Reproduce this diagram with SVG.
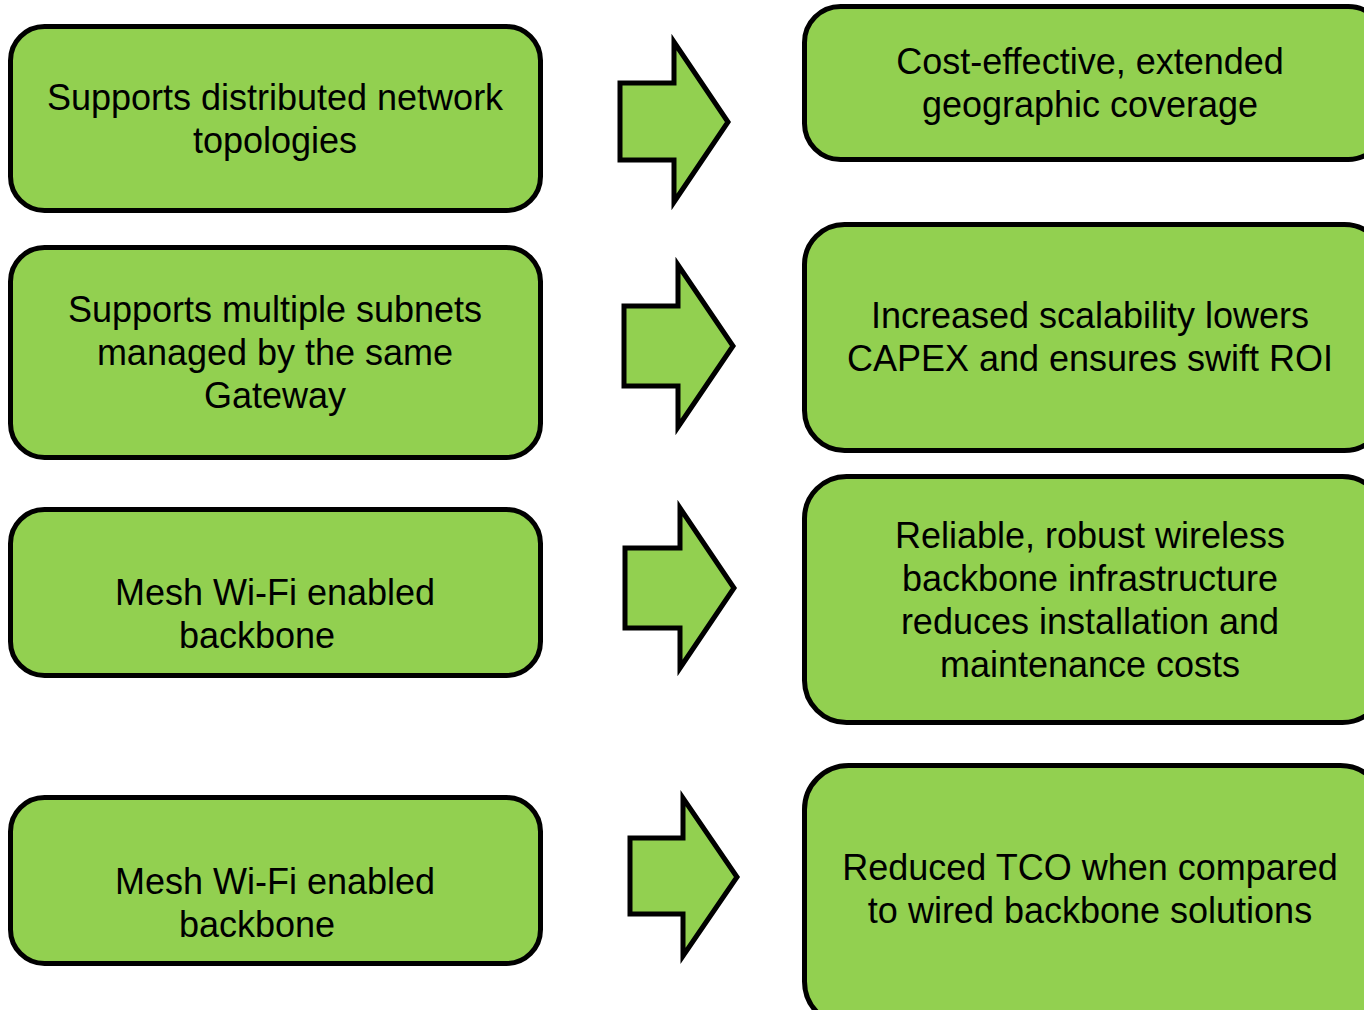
<svg xmlns="http://www.w3.org/2000/svg" width="1364" height="1010" viewBox="0 0 1364 1010">
  <style>
    .box { fill: #92D050; stroke: #000; stroke-width: 5; }
    .arrow { fill: #92D050; stroke: #000; stroke-width: 5; stroke-linejoin: miter; }
    .label { font-family: "Liberation Sans", Arial, sans-serif; font-size: 36px; fill: #000; text-anchor: middle; }
  </style>
  <rect width="1364" height="1010" fill="#fff"/>

  <!-- Left column: features -->
  <g id="feature-1">
    <rect class="box" x="10.5" y="26.5" width="530" height="184" rx="34"/>
    <text class="label" x="275" y="110">Supports distributed network</text>
    <text class="label" x="275" y="153">topologies</text>
  </g>
  <g id="feature-2">
    <rect class="box" x="10.5" y="247.5" width="530" height="210" rx="34"/>
    <text class="label" x="275" y="322">Supports multiple subnets</text>
    <text class="label" x="275" y="365">managed by the same</text>
    <text class="label" x="275" y="408">Gateway</text>
  </g>
  <g id="feature-3">
    <rect class="box" x="10.5" y="509.5" width="530" height="166" rx="34"/>
    <text class="label" x="275" y="605">Mesh Wi-Fi enabled</text>
    <text class="label" x="257" y="648">backbone</text>
  </g>
  <g id="feature-4">
    <rect class="box" x="10.5" y="797.5" width="530" height="166" rx="34"/>
    <text class="label" x="275" y="894">Mesh Wi-Fi enabled</text>
    <text class="label" x="257" y="937">backbone</text>
  </g>

  <!-- Right column: benefits -->
  <g id="benefit-1">
    <rect class="box" x="804.5" y="6.5" width="580" height="153" rx="36"/>
    <text class="label" x="1090" y="74">Cost-effective, extended</text>
    <text class="label" x="1090" y="117">geographic coverage</text>
  </g>
  <g id="benefit-2">
    <rect class="box" x="804.5" y="224.5" width="580" height="226" rx="40"/>
    <text class="label" x="1090" y="328">Increased scalability lowers</text>
    <text class="label" x="1090" y="371">CAPEX and ensures swift ROI</text>
  </g>
  <g id="benefit-3">
    <rect class="box" x="804.5" y="476.5" width="580" height="246" rx="42"/>
    <text class="label" x="1090" y="548">Reliable, robust wireless</text>
    <text class="label" x="1090" y="591">backbone infrastructure</text>
    <text class="label" x="1090" y="634">reduces installation and</text>
    <text class="label" x="1090" y="677">maintenance costs</text>
  </g>
  <g id="benefit-4">
    <rect class="box" x="804.5" y="765.5" width="580" height="260" rx="44"/>
    <text class="label" x="1090" y="880">Reduced TCO when compared</text>
    <text class="label" x="1090" y="923">to wired backbone solutions</text>
  </g>

  <!-- Connectors: block arrows from each feature to its benefit -->
  <g id="connectors">
    <polygon class="arrow" points="620,83 674,83 674,42 728,122 674,202 674,160 620,160"/>
    <polygon class="arrow" points="624,306 678,306 678,265 733,346 678,427 678,386 624,386"/>
    <polygon class="arrow" points="625,548 680,548 680,508 734,588 680,668 680,628 625,628"/>
    <polygon class="arrow" points="630,838 683,838 683,798 737,877 683,956 683,914 630,914"/>
  </g>
</svg>
